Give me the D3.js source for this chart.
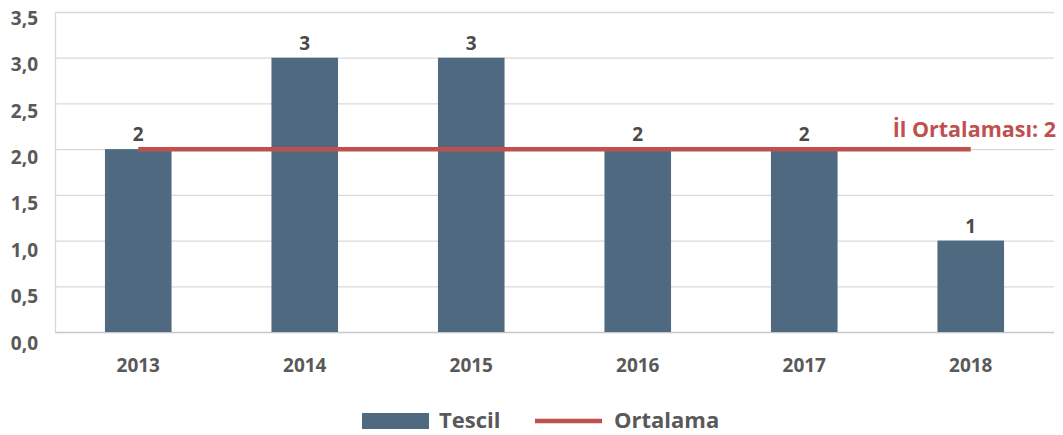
<!DOCTYPE html>
<html>
<head>
<meta charset="utf-8">
<script src="https://cdn.jsdelivr.net/npm/d3@7"></script>
<style>
    body { margin: 0; background: #fff; }
    text { font-family: "Open Sans", Lato, sans-serif; font-weight: bold; }
</style>
</head>
<body>
<svg id="chart" width="1063" height="435"></svg>
<script>
// chart data
var years = ['2013', '2014', '2015', '2016', '2017', '2018'];
var tescil = [2, 3, 3, 2, 2, 1];
var ortalama = [2, 2, 2, 2, 2, 2];
var yTicks = [0, 0.5, 1, 1.5, 2, 2.5, 3, 3.5];
var avgLabel = 'İl Ortalaması: 2';
var legendNames = ['Tescil', 'Ortalama'];

var barColor = '#4F6A80';
var lineColor = '#C0504D';
var textColor = '#595959';

var svg = d3.select('#chart');

var plot = {l: 55, r: 1054, t: 12, b: 332};

var x = d3.scaleBand()
    .domain(years)
    .range([plot.l, plot.r])
    .paddingInner(0.6)
    .paddingOuter(0.3);

var y = d3.scaleLinear()
    .domain([0, 3.5])
    .range([plot.b, plot.t]);

// labels sit a little under their gridlines in the original
var yLabel = d3.scaleLinear()
    .domain([0, 3.5])
    .range([plot.b + 11, plot.t + 6]);

var fmt = function(d) { return d3.format('.1f')(d).replace('.', ','); };

// gridlines
svg.append('g')
    .selectAll('line')
    .data(yTicks)
    .enter().append('line')
    .attr('x1', plot.l)
    .attr('x2', plot.r)
    .attr('y1', function(d) { return y(d) + 0.5; })
    .attr('y2', function(d) { return y(d) + 0.5; })
    .attr('stroke', function(d) { return d === 0 ? '#c8c8c8' : '#d9d9d9'; })
    .attr('stroke-width', 1.3);

svg.append('line')
    .attr('x1', plot.l + 0.5).attr('x2', plot.l + 0.5)
    .attr('y1', plot.t).attr('y2', plot.b)
    .attr('stroke', '#d9d9d9')
    .attr('stroke-width', 1.3);

// y tick labels
svg.append('g')
    .selectAll('text')
    .data(yTicks)
    .enter().append('text')
    .attr('x', 38)
    .attr('y', function(d) { return yLabel(d); })
    .attr('dy', '0.35em')
    .attr('text-anchor', 'end')
    .attr('font-size', 19)
    .attr('fill', textColor)
    .text(fmt);

// x labels
svg.append('g')
    .selectAll('text')
    .data(years)
    .enter().append('text')
    .attr('x', function(d) { return x(d) + x.bandwidth() / 2; })
    .attr('y', 372)
    .attr('text-anchor', 'middle')
    .attr('font-size', 19)
    .attr('fill', textColor)
    .text(function(d) { return d; });

// bars
svg.append('g')
    .selectAll('rect')
    .data(tescil)
    .enter().append('rect')
    .attr('x', function(d, i) { return x(years[i]); })
    .attr('y', function(d) { return y(d); })
    .attr('width', x.bandwidth())
    .attr('height', function(d) { return y(0) - y(d); })
    .attr('fill', barColor);

// value labels
svg.append('g')
    .selectAll('text')
    .data(tescil)
    .enter().append('text')
    .attr('x', function(d, i) { return x(years[i]) + x.bandwidth() / 2; })
    .attr('y', function(d) { return y(d) - 8; })
    .attr('text-anchor', 'middle')
    .attr('font-size', 19)
    .attr('fill', '#4a4a4a')
    .text(function(d) { return d; });

// average line
var line = d3.line()
    .x(function(d, i) { return x(years[i]) + x.bandwidth() / 2; })
    .y(function(d) { return y(d); });

svg.append('path')
    .datum(ortalama)
    .attr('d', line)
    .attr('fill', 'none')
    .attr('stroke', lineColor)
    .attr('stroke-width', 4.5);

svg.append('text')
    .attr('x', 1056)
    .attr('y', y(ortalama[ortalama.length - 1]) - 12)
    .attr('text-anchor', 'end')
    .attr('font-size', 21.5)
    .attr('fill', lineColor)
    .text(avgLabel);

// legend
var legend = svg.append('g');
legend.append('rect')
    .attr('x', 362).attr('y', 413)
    .attr('width', 67).attr('height', 16)
    .attr('fill', barColor);
legend.append('text')
    .attr('x', 439).attr('y', 428)
    .attr('font-size', 22)
    .attr('fill', textColor)
    .text(legendNames[0]);
legend.append('line')
    .attr('x1', 535).attr('x2', 602)
    .attr('y1', 421).attr('y2', 421)
    .attr('stroke', lineColor)
    .attr('stroke-width', 4.5);
legend.append('text')
    .attr('x', 614).attr('y', 428)
    .attr('font-size', 22)
    .attr('fill', textColor)
    .text(legendNames[1]);
</script>
</body>
</html>
